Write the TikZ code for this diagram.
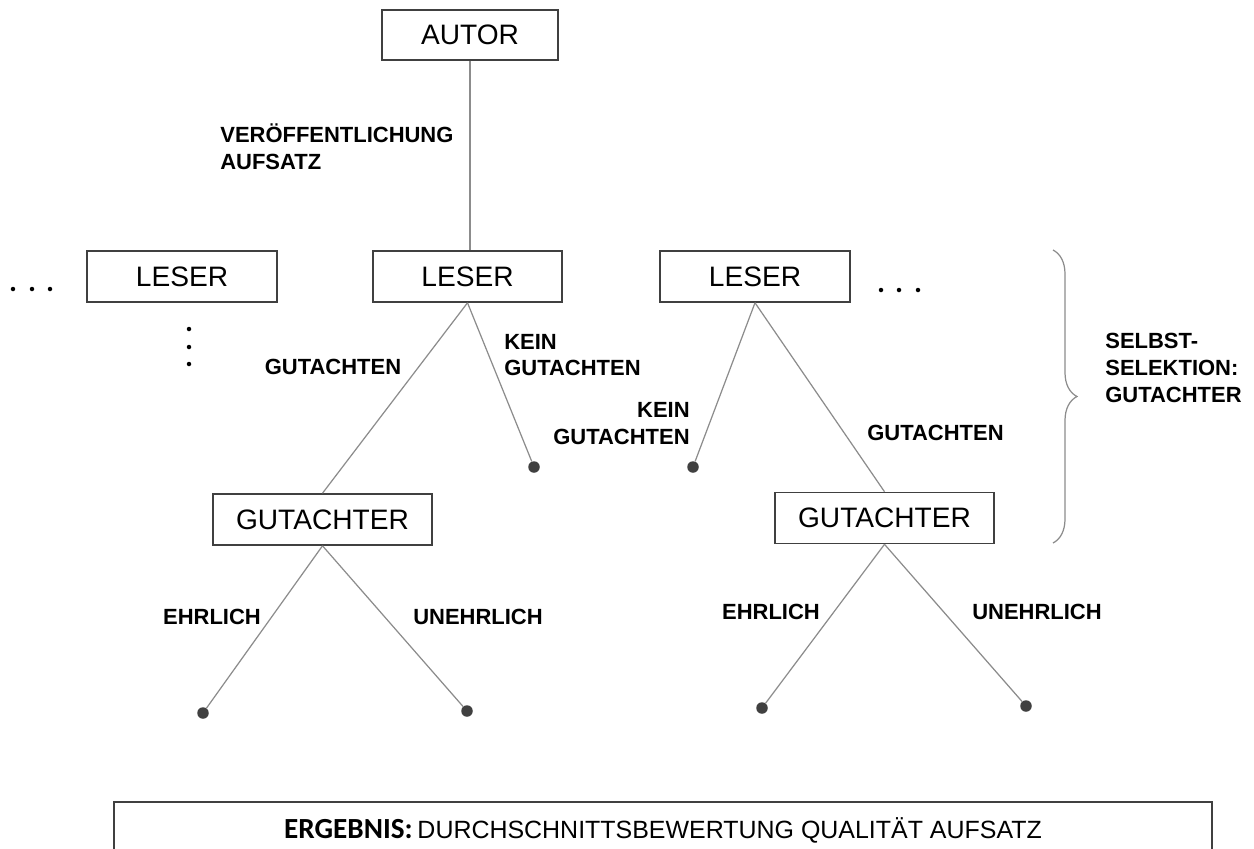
\documentclass[tikz,border=0pt]{standalone}
\usepackage{fontspec}
\setmainfont{Liberation Sans}
\newfontfamily\ergfont{Carlito}
\usetikzlibrary{decorations.pathreplacing}

\definecolor{boxline}{gray}{0.25}
\definecolor{branch}{gray}{0.55}
\definecolor{leafdot}{gray}{0.25}

\begin{document}
\begin{tikzpicture}[
  box/.style={draw=boxline,line width=0.9pt,minimum width=3.8cm,minimum height=1.02cm,inner sep=0pt,font=\fontsize{16}{19}\selectfont},
  lbl/.style={inner sep=0pt,font=\fontsize{12.5}{15.3}\selectfont\bfseries},
  leaf/.style={circle,fill=leafdot,inner sep=0pt,minimum size=0.23cm},
  branch/.style={draw=branch,line width=0.7pt}
]
\clip (0,0) rectangle (25.08,-16.96);
\useasboundingbox (0,0) rectangle (25.08,-16.96);

\node[box,minimum width=3.52cm,minimum height=1cm] (autor) at (9.40,-0.70) {AUTOR};
\node[box] (leserA) at (3.64,-5.53) {LESER};
\node[box,minimum width=3.78cm] (leserB) at (9.35,-5.53) {LESER};
\node[box] (leserC) at (15.10,-5.53) {LESER};
\node[box,minimum width=4.38cm] (gutA) at (6.45,-10.39) {GUTACHTER};
\node[box,minimum width=4.38cm] (gutB) at (17.69,-10.36) {GUTACHTER};

\node[leaf] (keinA) at (10.68,-9.34) {};
\node[leaf] (keinB) at (13.86,-9.34) {};
\node[leaf] (ehrA) at (4.06,-14.26) {};
\node[leaf] (unehrA) at (9.34,-14.22) {};
\node[leaf] (ehrB) at (15.24,-14.16) {};
\node[leaf] (unehrB) at (20.52,-14.12) {};

% Aeste
\draw[branch] (autor.south) -- (autor.south |- leserB.north);
\draw[branch] (leserB.south) -- (gutA.north);
\draw[branch] (leserB.south) -- (keinA);
\draw[branch] (leserC.south) -- (keinB);
\draw[branch] (leserC.south) -- (gutB.north);
\draw[branch] (gutA.south) -- (ehrA);
\draw[branch] (gutA.south) -- (unehrA);
\draw[branch] (gutB.south) -- (ehrB);
\draw[branch] (gutB.south) -- (unehrB);

% Beschriftungen
\node[lbl,anchor=west,align=left] (veroeff) at (4.40,-2.93) {VERÖFFENTLICHUNG\\AUFSATZ};
\node[lbl] (gutachtenA) at (6.66,-7.34) {GUTACHTEN};
\node[lbl,anchor=west,align=left] (keingutA) at (10.08,-7.10) {KEIN\\GUTACHTEN};
\node[lbl,anchor=east,align=right] (keingutB) at (13.80,-8.47) {KEIN\\GUTACHTEN};
\node[lbl] (gutachtenB) at (18.71,-8.66) {GUTACHTEN};
\node[lbl] (ehrlichA) at (4.24,-12.34) {EHRLICH};
\node[lbl] (unehrlichA) at (9.56,-12.34) {UNEHRLICH};
\node[lbl] (ehrlichB) at (15.42,-12.24) {EHRLICH};
\node[lbl] (unehrlichB) at (20.74,-12.24) {UNEHRLICH};

% Punkte
\foreach \x in {0.26,0.64,1.00}
  \fill[black] (\x,-5.78) circle (0.045);
\foreach \x in {17.62,17.98,18.36}
  \fill[black] (\x,-5.80) circle (0.045);
\foreach \y in {-6.58,-6.94,-7.28}
  \fill[black] (3.78,\y) circle (0.045);

% Selbstselektion
\draw[branch,decorate,decoration={brace,amplitude=0.48cm}] (21.06,-5.00) -- (21.06,-10.86);
\node[lbl,anchor=west,align=left] (selbst) at (22.10,-7.36) {SELBST-\\SELEKTION:\\GUTACHTER};

\node[draw=boxline,line width=0.9pt,minimum width=21.96cm,minimum height=1.12cm,inner sep=0pt] (ergebnis) at (13.26,-16.60)
  {{\ergfont\fontsize{16.6}{19}\selectfont\bfseries ERGEBNIS:} \fontsize{14.2}{17}\selectfont DURCHSCHNITTSBEWERTUNG QUALITÄT AUFSATZ};
\end{tikzpicture}
\end{document}
